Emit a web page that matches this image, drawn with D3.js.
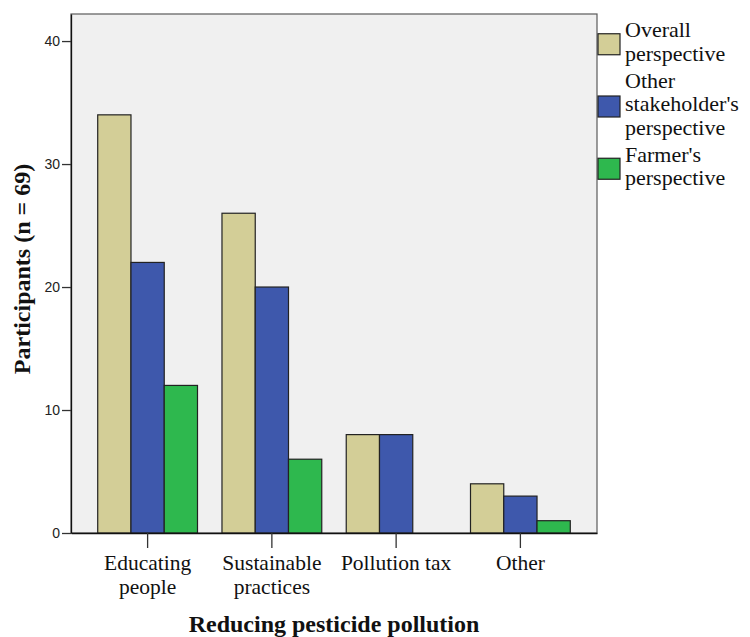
<!DOCTYPE html>
<html>
<head>
<meta charset="utf-8">
<script src="https://cdn.jsdelivr.net/npm/d3@7"></script>
<style>
  html, body { margin: 0; padding: 0; background: #fff; }
  svg { display: block; }
</style>
</head>
<body>
<svg id="chart" width="750" height="637"></svg>
<script>
// ---- data ----
const categories = ["Educating people", "Sustainable practices", "Pollution tax", "Other"];
const categoryLines = [["Educating", "people"], ["Sustainable", "practices"], ["Pollution tax"], ["Other"]];
const seriesNames = ["Overall perspective", "Other stakeholder's perspective", "Farmer's perspective"];
const seriesLegendLines = [["Overall", "perspective"], ["Other", "stakeholder's", "perspective"], ["Farmer's", "perspective"]];
const overallValues = [34, 26, 8, 4];
const stakeholderValues = [22, 20, 8, 3];
const farmerValues = [12, 6, 0, 1];
const yTicks = [0, 10, 20, 30, 40];
const colors = ["#d3ce97", "#3e58ac", "#2eb84e"];
const yTitle = "Participants (n = 69)";
const xTitle = "Reducing pesticide pollution";

const seriesValues = [overallValues, stakeholderValues, farmerValues];

// ---- layout ----
const plot = { left: 71, right: 597, top: 14, bottom: 533 };
const svg = d3.select("#chart");

const x0 = d3.scaleBand().domain(categories)
  .range([plot.left, plot.right]).paddingInner(0.197).paddingOuter(0.215);
const x1 = d3.scaleBand().domain(seriesNames).range([0, x0.bandwidth()]);
const y = d3.scaleLinear().domain([0, 42.2]).range([plot.bottom, plot.top]);

// plot background + frame
svg.append("rect").attr("x", plot.left).attr("y", plot.top)
  .attr("width", plot.right - plot.left).attr("height", plot.bottom - plot.top)
  .attr("fill", "#f0f0f0").attr("stroke", "#5a5a5a").attr("stroke-width", 1.2);

// bars
const groups = svg.append("g").selectAll("g").data(categories).join("g")
  .attr("transform", d => `translate(${x0(d)},0)`);
groups.selectAll("rect")
  .data((c, ci) => seriesNames.map((s, si) => ({ s, si, v: seriesValues[si][ci] })).filter(d => d.v > 0))
  .join("rect")
  .attr("x", d => x1(d.s))
  .attr("y", d => y(d.v))
  .attr("width", x1.bandwidth())
  .attr("height", d => y(0) - y(d.v))
  .attr("fill", d => colors[d.si])
  .attr("stroke", "#222")
  .attr("stroke-width", 1.2);

// y axis
const yAxis = svg.append("g").attr("transform", `translate(${plot.left},0)`)
  .call(d3.axisLeft(y).tickValues(yTicks).tickSize(9).tickSizeOuter(0).tickPadding(2).tickFormat(d3.format("d")));
yAxis.select(".domain").attr("stroke", "#111").attr("stroke-width", 1.3);
yAxis.selectAll(".tick line").attr("stroke", "#333").attr("stroke-width", 1.3);
yAxis.selectAll(".tick text").attr("font-family", "'Liberation Sans', Arial, sans-serif")
  .attr("font-size", 14).attr("fill", "#222");

// x axis
const xAxis = svg.append("g").attr("transform", `translate(0,${plot.bottom})`)
  .call(d3.axisBottom(x0).tickSize(15).tickSizeOuter(0).tickFormat(""));
xAxis.select(".domain").attr("stroke", "#111").attr("stroke-width", 1.3);
xAxis.selectAll(".tick line").attr("stroke", "#333").attr("stroke-width", 1.3);
xAxis.selectAll(".tick").each(function(d, i) {
  const tick = d3.select(this);
  categoryLines[i].forEach((line, li) => {
    tick.append("text")
      .attr("text-anchor", "middle")
      .attr("font-family", "'Liberation Serif', 'Times New Roman', serif")
      .attr("font-size", 21.5).attr("fill", "#111")
      .attr("x", 0).attr("y", 37 + li * 23.5).text(line);
  });
});

// axis titles
svg.append("text")
  .attr("x", (plot.left + plot.right) / 2).attr("y", 632)
  .attr("text-anchor", "middle")
  .attr("font-family", "'Liberation Serif', 'Times New Roman', serif")
  .attr("font-weight", "bold").attr("font-size", 24).attr("fill", "#111")
  .text(xTitle);
svg.append("text")
  .attr("transform", `translate(30,269) rotate(-90)`)
  .attr("text-anchor", "middle")
  .attr("font-family", "'Liberation Serif', 'Times New Roman', serif")
  .attr("font-weight", "bold").attr("font-size", 24).attr("fill", "#111")
  .text(yTitle);

// legend
const legend = svg.append("g");
let baseY = 37;
const lineH = 23.5;
seriesNames.forEach((s, i) => {
  const lines = seriesLegendLines[i];
  const g = legend.append("g");
  const blockMid = baseY + (lines.length - 1) * lineH / 2 - 5;
  g.append("rect").attr("x", 598).attr("y", blockMid - 10)
    .attr("width", 22).attr("height", 21)
    .attr("fill", colors[i]).attr("stroke", "#222").attr("stroke-width", 1.2);
  lines.forEach((line, li) => {
    g.append("text")
      .attr("font-family", "'Liberation Serif', 'Times New Roman', serif")
      .attr("font-size", 22).attr("fill", "#111")
      .attr("x", 625).attr("y", baseY + li * lineH).text(line);
  });
  baseY += lines.length * lineH + 3.5;
});
</script>
</body>
</html>
